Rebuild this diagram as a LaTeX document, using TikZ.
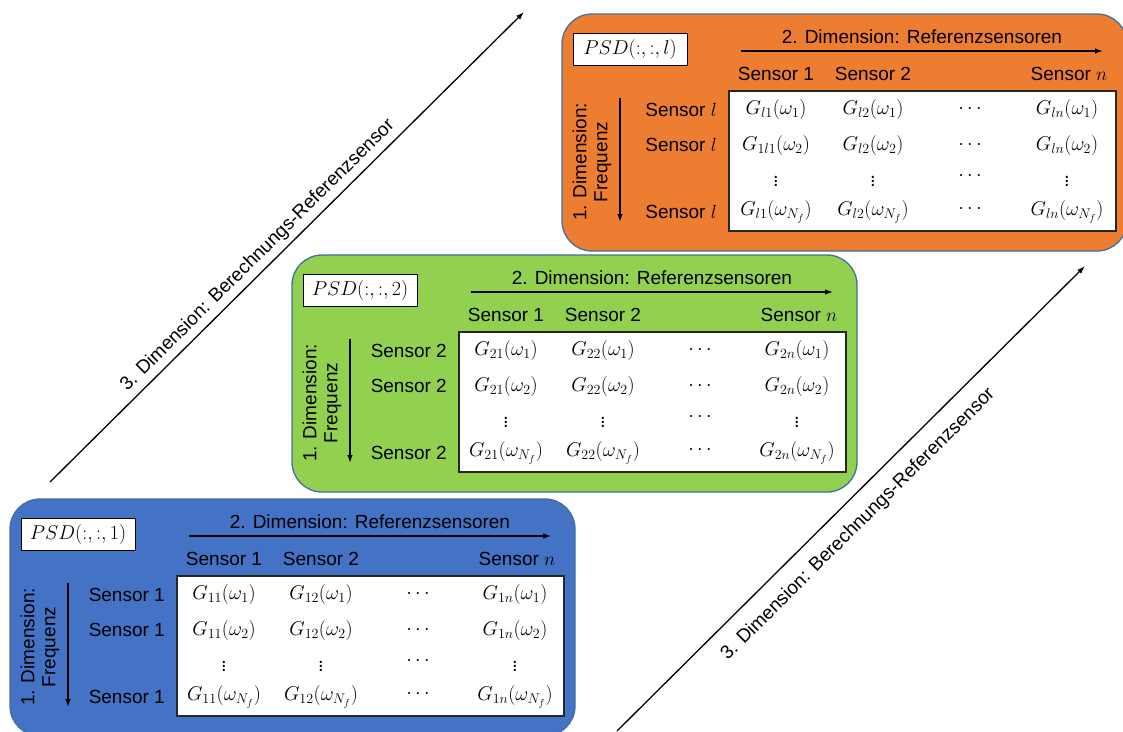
\RequirePackage{fix-cm}
\documentclass[tikz,border=0pt]{standalone}
\usepackage{fontspec}
\setmainfont{Liberation Sans}
\usetikzlibrary{arrows.meta}
\definecolor{porange}{HTML}{ED7D31}
\definecolor{pgreen}{HTML}{92D050}
\definecolor{pblue}{HTML}{4472C4}
\definecolor{pedge}{HTML}{41719C}
\tikzset{
  every node/.style={font=\fontsize{19}{21}\selectfont, inner sep=0pt},
  panelbox/.style={draw=pedge, line width=1.3pt, rounded corners=30pt,
    minimum width=565pt, minimum height=237pt},
  psdbox/.style={draw=black, fill=white, line width=1pt, minimum width=114pt, minimum height=32pt},
  tablebox/.style={draw=black!85, fill=white, line width=1.3pt, minimum width=387pt, minimum height=140pt},
  axisarrow/.style={line width=1.3pt, -{Latex[length=8pt,width=5.5pt]}},
  rowlbl/.style={anchor=east},
  cell/.style={font=\fontsize{20}{22}\selectfont},
  dotcell/.style={font=\fontsize{20}{22}\selectfont},
}
% #1 prefix, #2 x, #3 y, #4 colour, #5 psd index, #6 row label, #7 G first index, #8 row2 col1 subscript
\newcommand{\psdpanel}[8]{%
\begin{scope}[shift={(#2,#3)}]
  \node[panelbox, fill=#4] (#1-panel) at (282.5,118.5) {};
  \node[psdbox, cell] (#1-psd) at (68,35) {$PSD(\mathord{:},\mathord{:},#5)$};
  \node (#1-title) at (360,23) {2. Dimension: Referenzsensoren};
  \coordinate (#1-ha) at (179,37);
  \coordinate (#1-hb) at (541,37);
  \draw[axisarrow] (#1-ha) -- (#1-hb);
  \node (#1-h1) at (214,60) {Sensor 1};
  \node (#1-h2) at (311,60) {Sensor 2};
  \node (#1-hn) at (507,60) {Sensor $n$};
  \node[tablebox] (#1-table) at (360.5,147) {};
  \node[rowlbl] (#1-r1) at (155,96) {Sensor #6};
  \node[rowlbl] (#1-r2) at (155,131) {Sensor #6};
  \node[rowlbl] (#1-r4) at (155,198) {Sensor #6};
  \node[cell] (#1-c11) at (214,95) {$G_{#71}(\omega_1)$};
  \node[cell] (#1-c12) at (311,95) {$G_{#72}(\omega_1)$};
  \node[cell] (#1-c13) at (408,95) {$\cdots$};
  \node[cell] (#1-c14) at (505,95) {$G_{#7n}(\omega_1)$};
  \node[cell] (#1-c21) at (214,131) {$G_{#8}(\omega_2)$};
  \node[cell] (#1-c22) at (311,131) {$G_{#72}(\omega_2)$};
  \node[cell] (#1-c23) at (408,131) {$\cdots$};
  \node[cell] (#1-c24) at (505,131) {$G_{#7n}(\omega_2)$};
  \node[dotcell] (#1-c31) at (214,164) {$\vdots$};
  \node[dotcell] (#1-c32) at (311,164) {$\vdots$};
  \node[cell] (#1-c33) at (408,162) {$\cdots$};
  \node[dotcell] (#1-c34) at (505,164) {$\vdots$};
  \node[cell] (#1-c41) at (214,198) {$G_{#71}(\omega_{N_f})$};
  \node[cell] (#1-c42) at (311,198) {$G_{#72}(\omega_{N_f})$};
  \node[cell] (#1-c43) at (408,195) {$\cdots$};
  \node[cell] (#1-c44) at (505,198) {$G_{#7n}(\omega_{N_f})$};
  \coordinate (#1-va) at (58,84);
  \coordinate (#1-vb) at (58,208);
  \draw[axisarrow] (#1-va) -- (#1-vb);
  \node[rotate=90, align=center] (#1-dim1) at (30,148) {1. Dimension:\\Frequenz};
\end{scope}}

\begin{document}
\begin{tikzpicture}[x=1pt, y=-1pt]
  \fill[white] (0,0) rectangle (1123,731);
  \useasboundingbox (0,0) rectangle (1123,731);
  % third-dimension arrows
  \coordinate (d1s) at (50,482);
  \coordinate (d1e) at (524,12);
  \draw[axisarrow] (d1s) -- node[pos=0.46, sloped, above, inner sep=5pt] (d1lbl) {3. Dimension: Berechnungs-Referenzsensor} (d1e);
  \coordinate (d2s) at (617,731);
  \coordinate (d2e) at (1085,266);
  \draw[axisarrow] (d2s) -- node[pos=0.48, sloped, below, inner sep=14pt] (d2lbl) {3. Dimension: Berechnungs-Referenzsensor} (d2e);
  % panels
  \psdpanel{o}{562}{14}{porange}{l}{$l$}{l}{1l1}
  \psdpanel{g}{292}{255}{pgreen}{2}{2}{2}{21}
  \psdpanel{b}{10}{499}{pblue}{1}{1}{1}{11}
\end{tikzpicture}
\end{document}
